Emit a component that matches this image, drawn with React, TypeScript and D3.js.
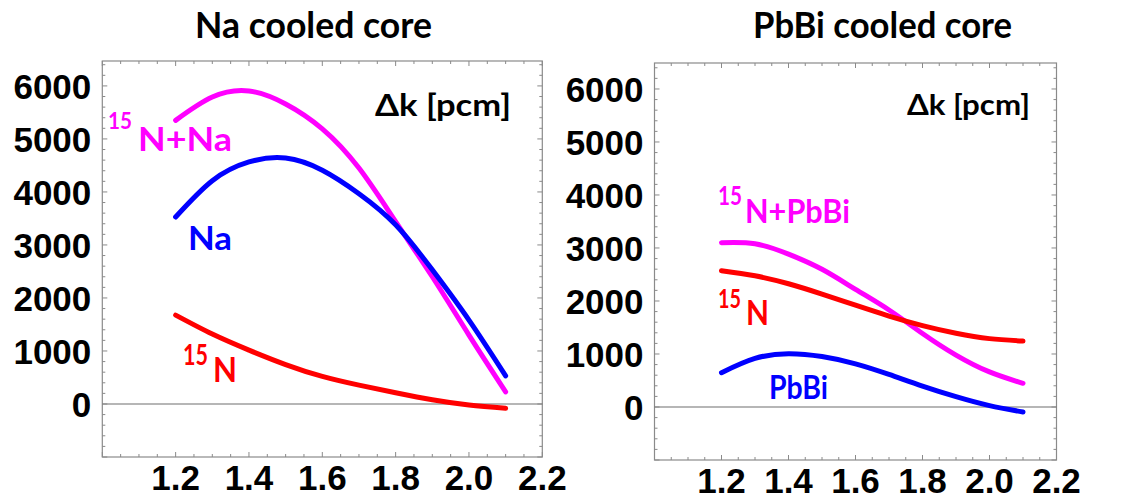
import React from "react";
import * as d3 from "d3";

// Fuel-temperature axis (x) sample points shared by every curve
const xValues = [1.2, 1.3, 1.4, 1.5, 1.6, 1.7, 1.8, 1.9, 2.0, 2.1];

// Na cooled core, Δk [pcm]
const naN15Na = [5350, 5790, 5905, 5660, 5190, 4450, 3440, 2400, 1300, 230];
const naNa = [3527, 4212, 4566, 4640, 4410, 3967, 3380, 2530, 1581, 530];
const naN15 = [1676, 1319, 1016, 744, 520, 355, 212, 79, -20, -82];

// PbBi cooled core, Δk [pcm]
const pbN15PbBi = [3100, 3080, 2885, 2598, 2220, 1830, 1388, 980, 662, 447];
const pbN15 = [2572, 2475, 2325, 2130, 1920, 1716, 1536, 1392, 1290, 1245];
const pbPbBi = [647, 916, 1005, 951, 814, 614, 394, 194, 25, -94];

// Axis tick labels
const xTickLabels = ["1.2", "1.4", "1.6", "1.8", "2.0", "2.2"];
const yTickLabels = ["0", "1000", "2000", "3000", "4000", "5000", "6000"];

const MAGENTA = "#ff00ff";
const BLUE = "#0000ff";
const RED = "#ff0000";

const LABEL_FONT = "Lato, 'DejaVu Sans', sans-serif";
const TICK_FONT = "'Liberation Sans', Arial, sans-serif";

type Series = { values: number[]; color: string };
type Label = {
  text: string;
  x: number;
  y: number;
  size: number;
  color: string;
  len: number;
  sup?: string;
  supSize?: number;
  supLen?: number;
  supRise?: number;
  gap?: number;
};

type PanelProps = {
  left: number;
  right: number;
  top: number;
  bottom: number;
  yMax: number;
  series: Series[];
  labels: Label[];
};

function Panel({ left, right, top, bottom, yMax, series, labels }: PanelProps) {
  const x = d3.scaleLinear().domain([1.0, 2.2]).range([left, right]);
  const y = d3.scaleLinear().domain([-1000, yMax]).range([bottom, top]);

  const line = d3
    .line<number>()
    .x((_, i) => x(xValues[i]))
    .y((v) => y(v))
    .curve(d3.curveNatural);

  const xMinor = d3.range(0, 25).map((i) => 1.0 + i * 0.05);
  const yMinor = d3.range(-1000, yMax + 1, 200);
  const frameColor = "#8a8a8a";

  return (
    <g>
      {/* frame */}
      <rect x={left} y={top} width={right - left} height={bottom - top} fill="none" stroke={frameColor} strokeWidth={1.2} />
      {/* zero line */}
      <line x1={left} x2={right} y1={y(0)} y2={y(0)} stroke="#6e6e6e" strokeWidth={1.2} />

      {/* x ticks, bottom and top, pointing inward */}
      {xMinor.map((t, i) => {
        const major = Math.abs(Math.round(t * 5) - t * 5) < 1e-6;
        const len = major ? 5 : 3;
        const px = x(t);
        return (
          <g key={"xt" + i}>
            <line x1={px} x2={px} y1={bottom} y2={bottom - len} stroke={frameColor} strokeWidth={1} />
            <line x1={px} x2={px} y1={top} y2={top + len} stroke={frameColor} strokeWidth={1} />
          </g>
        );
      })}
      {/* y ticks, left and right, pointing inward */}
      {yMinor.map((t, i) => {
        const major = t % 1000 === 0;
        const len = major ? 5 : 3;
        const py = y(t);
        return (
          <g key={"yt" + i}>
            <line x1={left} x2={left + len} y1={py} y2={py} stroke={frameColor} strokeWidth={1} />
            <line x1={right} x2={right - len} y1={py} y2={py} stroke={frameColor} strokeWidth={1} />
          </g>
        );
      })}

      {/* tick labels */}
      {xTickLabels.map((s) => (
        <text key={"xl" + s} x={x(+s)} y={bottom + 33} textAnchor="middle" fontFamily={TICK_FONT} fontWeight="bold" fontSize={35} fill="#000">
          {s}
        </text>
      ))}
      {yTickLabels.map((s) => (
        <text key={"yl" + s} x={left - 11} y={y(+s) + 13} textAnchor="end" fontFamily={TICK_FONT} fontWeight="bold" fontSize={35} fill="#000">
          {s}
        </text>
      ))}

      {/* curves */}
      {series.map((s, i) => (
        <path key={"s" + i} d={line(s.values) || ""} fill="none" stroke={s.color} strokeWidth={5} strokeLinecap="round" strokeLinejoin="round" />
      ))}

      {/* in-plot labels, with an optional isotope superscript */}
      {labels.map((l, i) => {
        if (!l.sup) {
          return (
            <text key={"lab" + i} x={l.x} y={l.y} fontFamily={LABEL_FONT} fontWeight="bold" fontSize={l.size} fill={l.color} textLength={l.len} lengthAdjust="spacingAndGlyphs">
              {l.text}
            </text>
          );
        }
        const rise = l.supRise || 0;
        return (
          <text key={"lab" + i} x={l.x} y={l.y - rise} fontFamily={LABEL_FONT} fontWeight="bold" fill={l.color}>
            <tspan fontSize={l.supSize} textLength={l.supLen} lengthAdjust="spacingAndGlyphs">
              {l.sup}
            </tspan>
            <tspan x={l.x + (l.supLen || 0) + (l.gap || 0)} dy={rise} fontSize={l.size} textLength={l.len} lengthAdjust="spacingAndGlyphs">
              {l.text}
            </tspan>
          </text>
        );
      })}
    </g>
  );
}

export default function App() {
  return (
    <svg width={1133} height={500} style={{ position: "absolute", left: 0, top: 0, background: "#fff" }}>
      <rect x={0} y={0} width={1133} height={500} fill="#fff" />

      <text x={195} y={38} fontFamily={LABEL_FONT} fontWeight="bold" fontSize={36} textLength={237} lengthAdjust="spacingAndGlyphs" fill="#000">
        Na cooled core
      </text>
      <text x={753} y={38} fontFamily={LABEL_FONT} fontWeight="bold" fontSize={36} textLength={259} lengthAdjust="spacingAndGlyphs" fill="#000">
        PbBi cooled core
      </text>

      <Panel
        left={102.3}
        right={542.3}
        top={61}
        bottom={457}
        yMax={6470}
        series={[
          { values: naN15Na, color: MAGENTA },
          { values: naNa, color: BLUE },
          { values: naN15, color: RED },
        ]}
        labels={[
          { text: "Δk [pcm]", x: 375, y: 116, size: 30, color: "#000", len: 136 },
          { sup: "15", supSize: 23, supLen: 24, supRise: 22, gap: 6, text: "N+Na", x: 108, y: 151, size: 33, color: MAGENTA, len: 94 },
          { text: "Na", x: 188, y: 250, size: 33, color: BLUE, len: 44 },
          { sup: "15", supSize: 28, supLen: 25, supRise: 17, gap: 5, text: "N", x: 183, y: 382, size: 34, color: RED, len: 24 },
        ]}
      />

      <Panel
        left={654.5}
        right={1056.5}
        top={63}
        bottom={460}
        yMax={6490}
        series={[
          { values: pbN15PbBi, color: MAGENTA },
          { values: pbN15, color: RED },
          { values: pbPbBi, color: BLUE },
        ]}
        labels={[
          { text: "Δk [pcm]", x: 907, y: 115, size: 28, color: "#000", len: 123 },
          { sup: "15", supSize: 26, supLen: 24, supRise: 18, gap: 3, text: "N+PbBi", x: 718, y: 223, size: 32, color: MAGENTA, len: 105 },
          { sup: "15", supSize: 27, supLen: 23, supRise: 17, gap: 5, text: "N", x: 718, y: 325, size: 34, color: RED, len: 23 },
          { text: "PbBi", x: 769, y: 399, size: 33, color: BLUE, len: 59 },
        ]}
      />
    </svg>
  );
}
